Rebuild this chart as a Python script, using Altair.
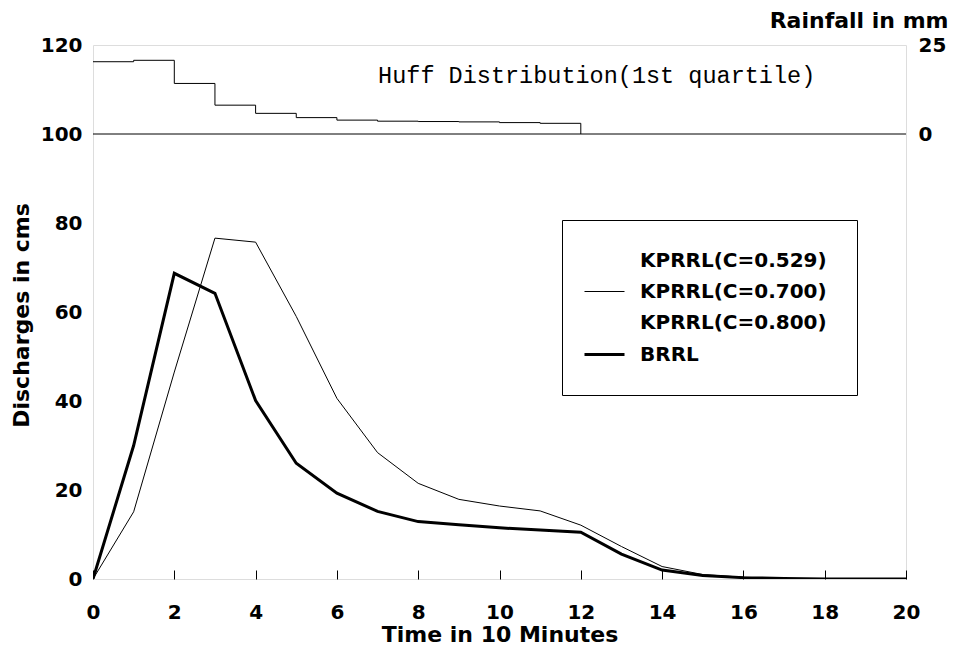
import altair as alt
import pandas as pd

# ---- data ----
time_steps = list(range(0, 21))
kprrl_070 = [0, 15.1, 46.5, 76.6, 75.7, 59.0, 40.6, 28.4, 21.5, 17.9, 16.4,
             15.3, 12.1, 7.3, 2.8, 1.0, 0.4, 0.1, 0.0, 0.0, 0.0]
brrl = [0, 30.0, 68.7, 64.2, 40.1, 26.0, 19.3, 15.2, 12.9, 12.2, 11.5,
        11.0, 10.5, 5.6, 2.0, 0.8, 0.3, 0.1, 0.0, 0.0, 0.0]

rain_time = list(range(0, 13))
rainfall = [20.3, 20.7, 14.2, 8.1, 5.8, 4.6, 3.9, 3.6, 3.5, 3.4, 3.2, 3.0, 0.0]

series_names = ["KPRRL(C=0.529)", "KPRRL(C=0.700)", "KPRRL(C=0.800)", "BRRL"]
series_colors = ["#ffffff", "#000000", "#ffffff", "#000000"]
series_widths = [1, 1, 1, 3]

x_ticks = list(range(0, 21, 2))
y_ticks = [0, 20, 40, 60, 80, 100, 120]
rain_ticks = [0, 25]
divider_level = [100]

panel_title = "Huff Distribution(1st quartile)"
panel_title_pos = {"time": 12.39, "rain": 14.3}

FONT = "DejaVu Sans"

flow = pd.DataFrame(
    {"time": time_steps * 2,
     "value": kprrl_070 + brrl,
     "series": ["KPRRL(C=0.700)"] * len(time_steps) + ["BRRL"] * len(time_steps)}
)
rain = pd.DataFrame({"time": rain_time, "rain": rainfall})
divider = pd.DataFrame({"level": divider_level})
label_df = pd.DataFrame([{"time": panel_title_pos["time"], "rain": panel_title_pos["rain"],
                          "label": panel_title}])

x_enc = alt.X(
    "time:Q",
    scale=alt.Scale(domain=[0, 20], nice=False),
    axis=alt.Axis(values=x_ticks, title="Time in 10 Minutes", grid=False, domain=False,
                  tickSize=9, offset=-9, tickColor="black", labelPadding=23,
                  labelFlush=False,
                  labelFont=FONT, labelFontSize=20, labelFontWeight="bold", labelColor="black",
                  titleFont=FONT, titleFontSize=22, titleFontWeight="bold", titleColor="black",
                  titleBaseline="alphabetic", titleY=71, labelAngle=0),
)

y_scale = alt.Scale(domain=[0, 120], nice=False)
y_axis = alt.Axis(values=y_ticks, title="Discharges in cms", grid=False, domain=False,
                  tickSize=0, labelPadding=11, labelFlush=False,
                  labelFont=FONT, labelFontSize=20, labelFontWeight="bold", labelColor="black",
                  titleFont=FONT, titleFontSize=22, titleFontWeight="bold", titleColor="black",
                  titleAngle=270, titleBaseline="alphabetic", titleX=-65, titleY=270)

legend = alt.Legend(
    title=None, orient="none", legendX=469, legendY=175,
    fillColor="white", strokeColor="black", padding=30,
    symbolType="M-2,0H2", symbolSize=400, symbolOffset=1,
    rowPadding=10, labelOffset=24,
    labelFont=FONT, labelFontSize=20, labelFontWeight="bold", labelColor="black",
    labelLimit=400,
)

lines = alt.Chart(flow).mark_line(clip=True).encode(
    x=x_enc,
    y=alt.Y("value:Q", scale=y_scale, axis=y_axis),
    color=alt.Color("series:N", scale=alt.Scale(domain=series_names, range=series_colors),
                    legend=legend),
    strokeWidth=alt.StrokeWidth("series:N",
                                scale=alt.Scale(type="ordinal", domain=series_names,
                                                range=series_widths),
                                legend=legend),
)

rule = alt.Chart(divider).mark_rule(color="black", strokeWidth=1).encode(
    y=alt.Y("level:Q", scale=y_scale, axis=y_axis)
)

discharge_layer = alt.layer(lines, rule)

rain_y = alt.Y("rain:Q", scale=alt.Scale(domain=[-125, 25], nice=False),
               axis=alt.Axis(orient="right", values=rain_ticks, title="Rainfall in mm",
                             grid=False, domain=False, tickSize=0, labelPadding=12,
                             labelFlush=False,
                             labelFont=FONT, labelFontSize=20, labelFontWeight="bold",
                             labelColor="black",
                             titleFont=FONT, titleFontSize=22, titleFontWeight="bold",
                             titleColor="black", titleAngle=0, titleAlign="right",
                             titleBaseline="alphabetic", titleX=42, titleY=-18))

rain_line = alt.Chart(rain).mark_line(interpolate="step-after", color="black",
                                      strokeWidth=1).encode(x=x_enc, y=rain_y)

rain_label = alt.Chart(label_df).mark_text(
    font="Liberation Mono", fontSize=23.5, color="black", align="center",
    baseline="alphabetic"
).encode(x=x_enc, y=rain_y, text="label:N")

rain_layer = alt.layer(rain_line, rain_label)

chart = alt.layer(discharge_layer, rain_layer).resolve_scale(y="independent").properties(
    width=813,
    height=534,
    autosize=alt.AutoSizeParams(type="none"),
    padding={"left": 85, "top": 37, "right": 48, "bottom": 67},
).configure_view(
    stroke="black", strokeWidth=1
).configure(background="white")

chart.save("out.html", embed_options={"renderer": "svg", "actions": False})
